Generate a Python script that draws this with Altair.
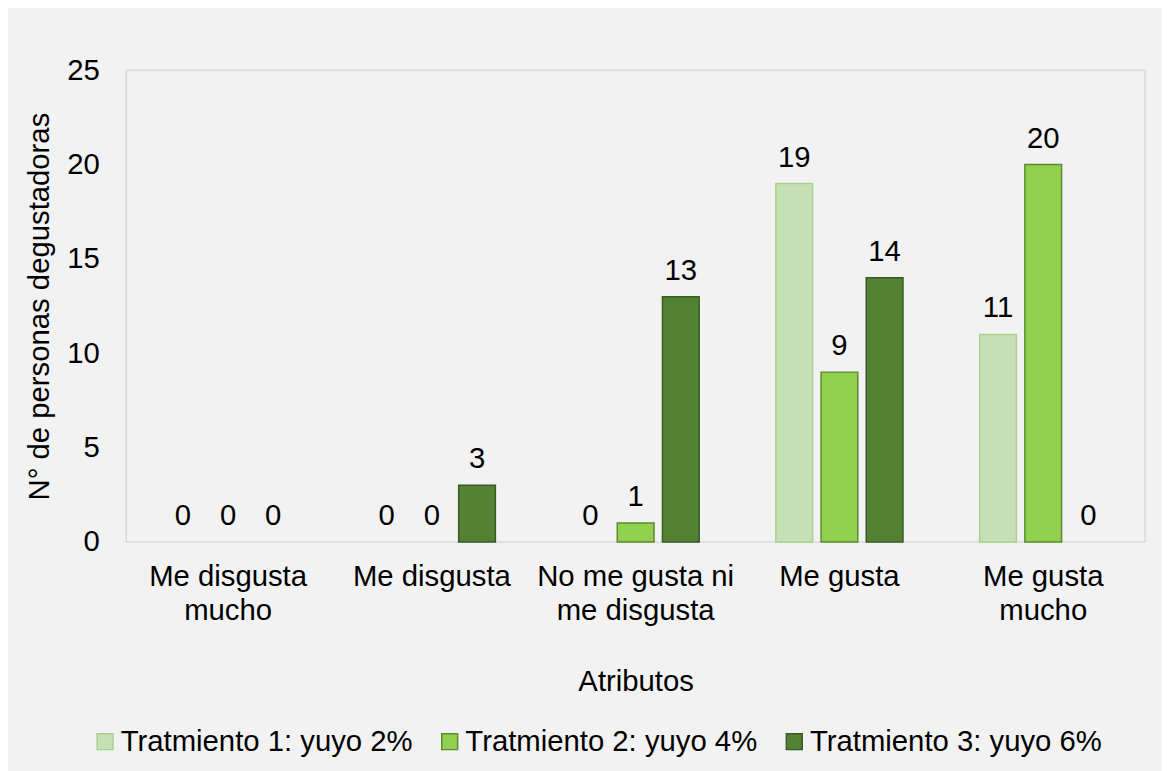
import altair as alt
import pandas as pd

categorias = ["Me disgusta\nmucho", "Me disgusta", "No me gusta ni\nme disgusta", "Me gusta", "Me gusta\nmucho"]
tratamientos = ["Tratmiento 1: yuyo 2%", "Tratmiento 2: yuyo 4%", "Tratmiento 3: yuyo 6%"]
t1 = [0, 0, 0, 19, 11]
t2 = [0, 0, 1, 9, 20]
t3 = [0, 3, 13, 14, 0]
fill_colors = ["#c5e0b4", "#92d050", "#548235"]
stroke_colors = ["#a9d18e", "#5b8a30", "#3a5a25"]
y_ticks = [0, 5, 10, 15, 20, 25]

rows = []
for trat, vals in zip(tratamientos, [t1, t2, t3]):
    for cat, v in zip(categorias, vals):
        rows.append({"Atributo": cat, "Tratamiento": trat, "Valor": v})
df = pd.DataFrame(rows)

FONT = "Liberation Sans"
FS = 29.5

x_enc = alt.X("Atributo:N", sort=categorias,
              scale=alt.Scale(domain=categorias, paddingInner=0.335, paddingOuter=0.1675),
              axis=alt.Axis(title="Atributos", labelAngle=0, labelExpr="split(datum.label, '\\n')",
                            labelLineHeight=34, labelPadding=21, labelBaseline="top",
                            domain=False, ticks=False, labelFontSize=FS, titleFontSize=FS,
                            labelColor="#000000", titleColor="#000000", titleFontWeight="normal",
                            titleX=513, titleY=150, titleBaseline="alphabetic",
                            labelLimit=400))
xo_enc = alt.XOffset("Tratamiento:N", sort=tratamientos,
                     scale=alt.Scale(domain=tratamientos, paddingInner=0.187, paddingOuter=0.0935))
y_enc = alt.Y("Valor:Q", scale=alt.Scale(domain=[0, 25], nice=False),
              axis=alt.Axis(title="N° de personas degustadoras", values=y_ticks, grid=False,
                            domain=False, ticks=False, labelPadding=27, labelFontSize=FS,
                            titleFontSize=FS, labelColor="#000000", titleColor="#000000",
                            titleFontWeight="normal", titleX=-87, titleY=237.5,
                            titleAngle=-90, titleAlign="center", titleBaseline="middle"))

legend_kw = dict(title=None, orient="none", legendX=-36, legendY=661,
                 direction="horizontal", columns=3, symbolType="square",
                 symbolSize=256, symbolStrokeWidth=1.5, labelFontSize=FS,
                 labelFont=FONT, labelColor="#000000", labelOffset=1,
                 columnPadding=22, labelLimit=500)

bars = alt.Chart(df).transform_filter("datum.Valor > 0").mark_bar(strokeWidth=1.5).encode(
    x=x_enc,
    xOffset=xo_enc,
    y=y_enc,
    fill=alt.Fill("Tratamiento:N", sort=tratamientos,
                  scale=alt.Scale(domain=tratamientos, range=fill_colors),
                  legend=alt.Legend(**legend_kw)),
    stroke=alt.Stroke("Tratamiento:N", sort=tratamientos,
                      scale=alt.Scale(domain=tratamientos, range=stroke_colors),
                      legend=alt.Legend(**legend_kw)),
)

labels = alt.Chart(df).mark_text(font=FONT, fontSize=FS, color="#000000", baseline="alphabetic",
                                 align="center", dy=-17).encode(
    x=alt.X("Atributo:N", sort=categorias),
    xOffset=alt.XOffset("Tratamiento:N", sort=tratamientos),
    y=alt.Y("Valor:Q"),
    text=alt.Text("Valor:Q"),
)

chart = alt.layer(bars, labels).properties(
    width=1026, height=475,
    padding={"left": 119, "top": 60, "right": 17, "bottom": 228},
    autosize=alt.AutoSizeParams(type="none"),
    background="#f2f2f2",
).configure_view(
    stroke="#d9d9d9", strokeWidth=1.5
).configure_axis(
    labelFont=FONT, titleFont=FONT
).configure_legend(
    labelFont=FONT
)

chart.save("out.html", embed_options={"renderer": "svg", "actions": False})
